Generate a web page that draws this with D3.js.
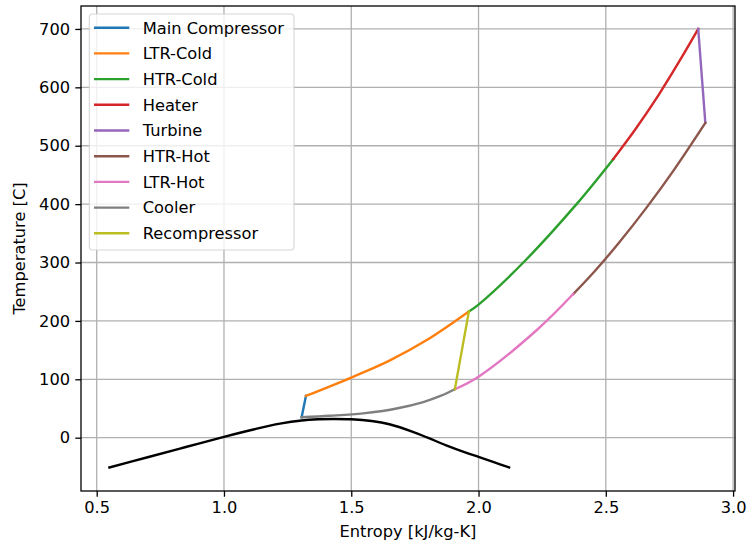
<!DOCTYPE html>
<html>
<head>
<meta charset="utf-8">
<script src="https://cdn.jsdelivr.net/npm/d3@7"></script>
<style>
  html, body { margin: 0; padding: 0; background: #fff; }
  svg { display: block; font-family: "DejaVu Sans", sans-serif; }
</style>
</head>
<body>
<svg id="chart" width="748" height="545"></svg>
<script>
// ---- data (entropy kJ/kg-K, temperature C) ----
const seriesNames = ["Main Compressor", "LTR-Cold", "HTR-Cold", "Heater", "Turbine", "HTR-Hot", "LTR-Hot", "Cooler", "Recompressor"];
const seriesColors = ["#1f77b4", "#ff7f0e", "#2ca02c", "#d62728", "#9467bd", "#8c564b", "#e377c2", "#7f7f7f", "#bcbd22"];

const mainCompS = [1.305, 1.322];
const mainCompT = [35, 71.5];
const ltrColdS = [1.322, 1.5, 1.65, 1.8, 1.962];
const ltrColdT = [71.5, 103, 132, 168, 216];
const htrColdS = [1.962, 2.0, 2.176, 2.385, 2.529];
const htrColdT = [216, 228, 300, 400, 477];
const heaterS = [2.529, 2.619, 2.709, 2.799, 2.863];
const heaterT = [477, 530, 588, 652, 700];
const turbineS = [2.863, 2.891];
const turbineT = [700, 539];
const htrHotS = [2.891, 2.77, 2.66, 2.55, 2.45, 2.372];
const htrHotT = [539, 460, 394, 333, 282, 246];
const ltrHotS = [2.372, 2.228, 2.0, 1.907];
const ltrHotT = [246, 184, 104.5, 83];
const coolerS = [1.907, 1.848, 1.783, 1.678, 1.547, 1.416, 1.305];
const coolerT = [83, 71, 61, 50, 41.6, 37.5, 35];
const recompS = [1.907, 1.962];
const recompT = [83, 216];

const domeS = [0.55, 0.7, 0.85, 1.0, 1.12, 1.22, 1.305, 1.37, 1.43, 1.5, 1.58, 1.65, 1.742, 1.8, 1.873, 1.95, 2.0, 2.06, 2.12];
const domeT = [-51, -33.5, -16, 1.5, 14.5, 24, 29.5, 31.5, 32, 31.5, 28.5, 23, 10, 0, -13, -25.5, -33, -42, -51];

const xTicks = [0.5, 1.0, 1.5, 2.0, 2.5, 3.0];
const yTicks = [0, 100, 200, 300, 400, 500, 600, 700];
const xLabel = "Entropy [kJ/kg-K]";
const yLabel = "Temperature [C]";

// ---- layout ----
const svg = d3.select("#chart");
const L = 81, R = 735, T = 6, B = 491;
const x = d3.scaleLinear().domain([0.4383, 3.0075]).range([L, R]);
const y = d3.scaleLinear().domain([-91.3, 739.3]).range([B, T]);
const fs = 16.25;

// grid
const g = svg.append("g");
g.selectAll(".gx").data(xTicks).enter().append("line")
  .attr("x1", d => x(d)).attr("x2", d => x(d)).attr("y1", T).attr("y2", B)
  .attr("stroke", "#b0b0b0").attr("stroke-width", 1.3);
g.selectAll(".gy").data(yTicks).enter().append("line")
  .attr("y1", d => y(d)).attr("y2", d => y(d)).attr("x1", L).attr("x2", R)
  .attr("stroke", "#b0b0b0").attr("stroke-width", 1.3);

// lines
const seriesData = [
  [mainCompS, mainCompT], [ltrColdS, ltrColdT], [htrColdS, htrColdT], [heaterS, heaterT],
  [turbineS, turbineT], [htrHotS, htrHotT], [ltrHotS, ltrHotT], [coolerS, coolerT], [recompS, recompT]
];
const line = d3.line().x(d => x(d[0])).y(d => y(d[1])).curve(d3.curveCatmullRom.alpha(0.5));
seriesData.forEach((sd, i) => {
  const pts = sd[0].map((s, j) => [s, sd[1][j]]);
  svg.append("path").attr("d", line(pts)).attr("fill", "none")
    .attr("stroke", seriesColors[i]).attr("stroke-width", 2.4)
    .attr("stroke-linecap", "square").attr("stroke-linejoin", "round");
});
const domePts = domeS.map((s, j) => [s, domeT[j]]);
svg.append("path").attr("d", line(domePts)).attr("fill", "none")
  .attr("stroke", "#000").attr("stroke-width", 2.4).attr("stroke-linecap", "square");

// axes
const xAxis = d3.axisBottom(x).tickValues(xTicks).tickFormat(d3.format(".1f")).tickSize(5.7).tickPadding(5.2);
const yAxis = d3.axisLeft(y).tickValues(yTicks).tickFormat(d3.format("d")).tickSize(5.7).tickPadding(5.2);
const gx = svg.append("g").attr("transform", `translate(0,${B})`).call(xAxis);
const gy = svg.append("g").attr("transform", `translate(${L},0)`).call(yAxis);
[gx, gy].forEach(a => {
  a.select(".domain").remove();
  a.selectAll("line").attr("stroke", "#000").attr("stroke-width", 1.3);
  a.selectAll("text").attr("font-size", fs).attr("font-family", "DejaVu Sans").attr("fill", "#000");
});

// spines
svg.append("rect").attr("x", L).attr("y", T).attr("width", R - L).attr("height", B - T)
  .attr("fill", "none").attr("stroke", "#000").attr("stroke-width", 1.3);

// axis labels
svg.append("text").attr("x", (L + R) / 2).attr("y", 537).attr("text-anchor", "middle")
  .attr("font-size", fs).attr("fill", "#000").text(xLabel);
svg.append("text").attr("transform", `translate(25,${(T + B) / 2}) rotate(-90)`)
  .attr("text-anchor", "middle").attr("font-size", fs).attr("fill", "#000").text(yLabel);

// legend
const lg = svg.append("g");
lg.append("rect").attr("x", 89.3).attr("y", 14).attr("width", 204.7).attr("height", 236)
  .attr("rx", 3.5).attr("fill", "#fff").attr("fill-opacity", 0.8)
  .attr("stroke", "#ccc").attr("stroke-opacity", 0.8).attr("stroke-width", 1.1);
seriesNames.forEach((name, i) => {
  const yy = 27.7 + i * 25.7;
  lg.append("line").attr("x1", 94).attr("x2", 129.3).attr("y1", yy).attr("y2", yy)
    .attr("stroke", seriesColors[i]).attr("stroke-width", 2.4);
  lg.append("text").attr("x", 142.7).attr("y", yy).attr("dy", "0.36em")
    .attr("font-size", fs).attr("fill", "#000").text(name);
});
</script>
</body>
</html>
